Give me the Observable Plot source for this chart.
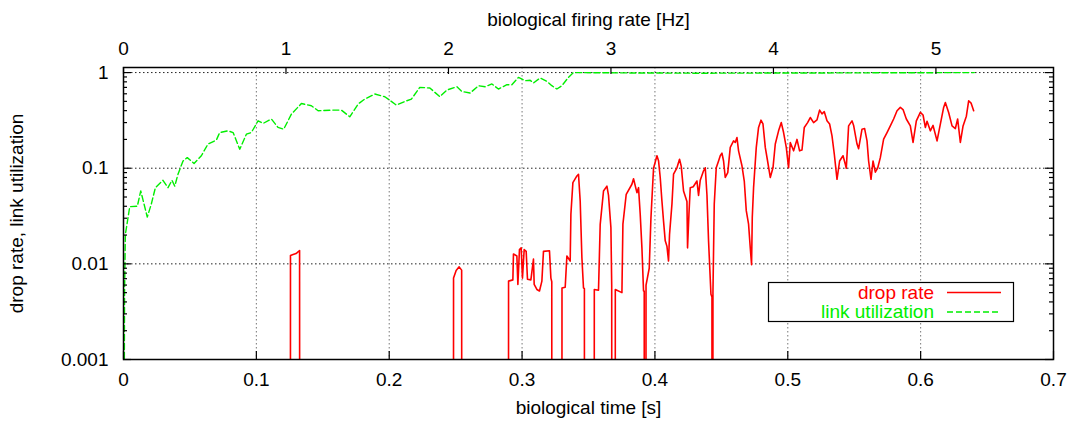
<!DOCTYPE html>
<html><head><meta charset="utf-8">
<script src="https://cdn.jsdelivr.net/npm/d3@7"></script>
<script src="https://cdn.jsdelivr.net/npm/@observablehq/plot@0.6"></script>
<style>body{margin:0;background:#fff}#chart{width:1074px;height:421px}</style>
</head><body><div id="chart"></div>
<script>
// ---- data ----
const timeTicks = [0, 0.1, 0.2, 0.3, 0.4, 0.5, 0.6, 0.7];
const hzTicks = [0, 1, 2, 3, 4, 5];
const secondsPerHz = 0.1223;
const yTicks = [0.001, 0.01, 0.1, 1];
const seriesNames = ["drop rate", "link utilization"];
const seriesColors = ["#ff0000", "#00ee00"];

const utilTime = [0,0.0008,0.0014,0.0047,0.0104,0.0130,0.0179,0.0209,0.0240,0.0297,0.0335,0.0365,0.0386,0.0410,0.0448,0.0480,0.0531,0.0586,0.0636,0.0699,0.0724,0.0787,0.0825,0.0875,0.0925,0.0962,0.1013,0.1051,0.1113,0.1163,0.1206,0.1264,0.1339,0.1414,0.1465,0.1565,0.1640,0.1703,0.1766,0.1816,0.1892,0.1967,0.2054,0.2118,0.2167,0.2230,0.2306,0.2381,0.2434,0.2509,0.2547,0.2609,0.2672,0.2722,0.2773,0.2822,0.2886,0.2923,0.2973,0.3023,0.3061,0.3086,0.3136,0.3187,0.3224,0.3262,0.3300,0.3349,0.3387,0.3889,0.4341,0.5094,0.6404];
const utilValue = [0,0.005,0.0203,0.0396,0.040,0.0578,0.0309,0.042,0.0626,0.0748,0.0626,0.0748,0.065,0.0865,0.119,0.129,0.112,0.135,0.179,0.197,0.236,0.246,0.236,0.158,0.227,0.236,0.313,0.294,0.327,0.267,0.256,0.368,0.475,0.45,0.399,0.405,0.405,0.345,0.469,0.528,0.597,0.559,0.457,0.499,0.528,0.70,0.69,0.559,0.657,0.711,0.635,0.611,0.729,0.711,0.76,0.673,0.747,0.747,0.891,0.822,0.83,0.778,0.878,0.809,0.729,0.673,0.729,0.891,1.0,0.99,0.985,0.99,1.0];

const dropTime = [
0,0.12560,0.12568,0.12764,0.12990,0.13253,0.13268,
0.24834,0.24842,0.25038,0.25264,0.25452,0.25467,
0.28976,0.28983,0.29307,0.29352,0.29608,0.29684,0.29804,0.29932,0.30030,0.30158,0.30309,0.30407,0.30663,0.30858,0.30911,0.31114,0.31310,0.31491,0.31611,0.32063,0.32169,0.32236,0.32244,
0.32997,0.33005,0.33246,0.33373,0.33622,0.33675,0.33825,0.34127,0.34247,0.34375,0.34503,0.34623,0.34691,0.34699,
0.35429,0.35437,0.35753,0.35881,0.36130,0.36386,0.36506,0.36687,0.36747,0.36762,
0.37011,0.37018,0.37515,0.37590,0.37839,0.38268,0.38389,0.38645,0.38765,0.38893,0.39021,0.39142,0.39194,0.39202,
0.39322,0.39330,0.39571,0.39699,0.39895,0.40151,0.40271,0.40399,0.40527,0.40648,0.40776,0.40904,0.41024,0.41099,0.41280,0.41401,0.41657,0.41852,0.41980,0.42154,0.42410,0.42455,0.42560,0.42658,0.42884,0.43163,0.43283,0.43411,0.43660,0.43788,0.43916,0.44036,0.44217,0.44292,0.44300,
0.44360,0.44367,0.44465,0.44616,0.44789,0.44917,0.45045,0.45166,0.45294,0.45482,0.45670,0.45919,0.46047,0.46175,0.46295,0.46551,0.46725,0.46875,0.47048,0.47176,0.47274,0.47327,0.47425,0.47628,0.47801,0.47982,0.48133,0.48306,0.48479,0.48682,0.48886,0.49059,0.49307,0.49511,0.49684,0.49887,0.50060,0.50188,0.50437,0.50693,0.50889,0.51069,0.51242,0.51491,0.51694,0.51943,0.52199,0.52395,0.52575,0.52748,0.52952,0.53148,0.53328,0.53502,0.53705,0.53901,0.54157,0.54330,0.54405,0.54578,0.54834,0.54955,0.55211,0.55331,0.55587,0.55783,0.55964,0.56084,0.56265,0.56416,0.56589,0.56762,0.56965,0.57214,0.57470,0.57718,0.57967,0.58223,0.58471,0.58675,0.58923,0.59224,0.59428,0.59676,0.59977,0.60181,0.60354,0.60482,0.60730,0.60934,0.61235,0.61483,0.61732,0.61860,0.62108,0.62364,0.62613,0.62786,0.62989,0.63193,0.63441,0.63614,0.63795,0.63991];
const dropValue = [
0,0,0.0122,0.0125,0.0128,0.0138,0,
0,0.0071,0.0085,0.0093,0.0086,0,
0,0.0066,0.0068,0.0127,0.0121,0.0061,0.0141,0.0147,0.0071,0.0141,0.0135,0.0069,0.0068,0.0112,0.0061,0.0054,0.0052,0.0066,0.0135,0.0137,0.0071,0.0065,0,
0,0.0056,0.0057,0.0121,0.0107,0.033,0.0707,0.083,0.0865,0.0454,0.0116,0.0056,0.0055,0,
0,0.0054,0.0053,0.0259,0.0578,0.065,0.052,0.0239,0.006,0,
0,0.0054,0.005,0.026,0.0534,0.068,0.0775,0.0555,0.0626,0.033,0.0147,0.0052,0.0052,0,
0,0.006,0.009,0.03,0.1,0.135,0.12,0.08,0.0454,0.028,0.0174,0.0153,0.0107,0.0203,0.042,0.0865,0.101,0.124,0.105,0.0578,0.045,0.0147,0.033,0.0626,0.064,0.0735,0.052,0.075,0.094,0.101,0.0525,0.0174,0.0048,0.0045,0,
0,0.005,0.042,0.101,0.119,0.135,0.144,0.119,0.08,0.09,0.165,0.193,0.186,0.209,0.152,0.106,0.0735,0.036,0.026,0.0147,0.0098,0.0305,0.0626,0.165,0.267,0.318,0.29,0.165,0.119,0.08,0.101,0.179,0.246,0.30,0.236,0.165,0.101,0.186,0.152,0.2,0.152,0.155,0.267,0.30,0.339,0.30,0.32,0.405,0.37,0.39,0.313,0.29,0.218,0.14,0.0766,0.119,0.135,0.11,0.1,0.277,0.313,0.28,0.179,0.16,0.256,0.26,0.193,0.119,0.0766,0.119,0.091,0.1,0.129,0.201,0.236,0.277,0.327,0.399,0.432,0.41,0.327,0.277,0.186,0.313,0.383,0.36,0.267,0.31,0.246,0.28,0.193,0.289,0.432,0.487,0.383,0.277,0.26,0.327,0.186,0.277,0.35,0.507,0.48,0.399];

// ---- layout ----
const W = 1074, H = 421, mL = 123, mR = 21, mT = 67, mB = 62;
const plotW = W - mL - mR, plotH = H - mT - mB;
const FONT = "'Liberation Sans', Arial, Helvetica, sans-serif";
const FS = 19;
const zeroFloor = 1e-6; // zero on a log axis: drawn off the bottom and clipped

const util = utilTime.map((t, i) => ({t, v: utilValue[i]}));
const drop = dropTime.map((t, i) => ({t, v: dropValue[i]}));
const yPos = d => (d.v > 0 ? d.v : zeroFloor);
const minorY = [0.001, 0.01, 0.1].flatMap(d => [2,3,4,5,6,7,8,9].map(k => +(k * d).toPrecision(3)));
const hzPos = hzTicks.map(h => h * secondsPerHz);

const chart = Plot.plot({
  width: W, height: H,
  marginLeft: mL, marginRight: mR, marginTop: mT, marginBottom: mB,
  style: {fontFamily: FONT, fontSize: FS + "px", color: "#000", background: "#fff", overflow: "visible"},
  x: {domain: [0, 0.7]},
  y: {type: "log", domain: [0.001, 1.13]},
  marks: [
    // grid
    Plot.ruleX(timeTicks.slice(1, -1), {stroke: "#777", strokeWidth: 1, strokeDasharray: "1.5,2.5"}),
    Plot.ruleY(yTicks.slice(1), {stroke: "#222", strokeWidth: 1, strokeDasharray: "1.5,2.5"}),
    // series
    Plot.line(util, {x: "t", y: yPos, stroke: seriesColors[1], strokeWidth: 1.4, strokeDasharray: "6,3", clip: true}),
    Plot.line(drop, {x: "t", y: yPos, stroke: seriesColors[0], strokeWidth: 1.6, clip: true}),
    // border
    Plot.frame({stroke: "#000", strokeWidth: 1.5}),
    // inward ticks
    Plot.tickX(timeTicks, {insetTop: plotH - 8, stroke: "#000", strokeWidth: 1.2}),
    Plot.tickX(hzPos, {insetBottom: plotH - 7, stroke: "#000", strokeWidth: 1.2}),
    Plot.tickY(yTicks, {insetRight: plotW - 8, stroke: "#000", strokeWidth: 1.2}),
    Plot.tickY(yTicks, {insetLeft: plotW - 8, stroke: "#000", strokeWidth: 1.2}),
    Plot.tickY(minorY, {insetRight: plotW - 4, stroke: "#000", strokeWidth: 1.2}),
    Plot.tickY(minorY, {insetLeft: plotW - 4, stroke: "#000", strokeWidth: 1.2}),
    // tick labels
    Plot.axisX(timeTicks, {anchor: "bottom", tickSize: 0, tickPadding: 13, label: null, fontSize: FS, tickFormat: d => String(d)}),
    Plot.axisX(hzPos, {anchor: "top", tickSize: 0, tickPadding: 13, label: null, fontSize: FS, tickFormat: d => String(Math.round(d / secondsPerHz))}),
    Plot.axisY(yTicks, {anchor: "left", tickSize: 0, tickPadding: 15, label: null, fontSize: FS, tickFormat: d => String(d)}),
    // axis titles
    Plot.text(["biological time [s]"], {frameAnchor: "bottom", lineAnchor: "bottom", textAnchor: "middle", dy: 54, fontSize: FS, fill: "#000"}),
    Plot.text(["biological firing rate [Hz]"], {frameAnchor: "top", lineAnchor: "bottom", textAnchor: "middle", dy: -41.5, fontSize: FS, fill: "#000"}),
    Plot.text(["drop rate, link utilization"], {frameAnchor: "left", lineAnchor: "bottom", textAnchor: "middle", rotate: -90, dx: -101, fontSize: FS, fill: "#000"})
  ]
});

// legend (gnuplot-style key box)
const svg = d3.select(chart);
const key = svg.append("g").attr("font-family", FONT).attr("font-size", FS);
key.append("rect").attr("x", 768.5).attr("y", 282.5).attr("width", 245).attr("height", 39)
  .attr("fill", "#fff").attr("stroke", "#000").attr("stroke-width", 1.2);
const keyRows = [
  {name: seriesNames[0], color: seriesColors[0], dash: null, y: 292.5},
  {name: seriesNames[1], color: seriesColors[1], dash: "6,3", y: 312}
];
for (const r of keyRows) {
  key.append("text").attr("x", 934).attr("y", r.y).attr("dy", "0.33em")
    .attr("text-anchor", "end").attr("fill", r.color).text(r.name);
  key.append("line").attr("x1", 947).attr("x2", 1001).attr("y1", r.y).attr("y2", r.y)
    .attr("stroke", r.color).attr("stroke-width", 1.3).attr("stroke-dasharray", r.dash);
}

document.getElementById("chart").appendChild(chart);
</script>
</body></html>
